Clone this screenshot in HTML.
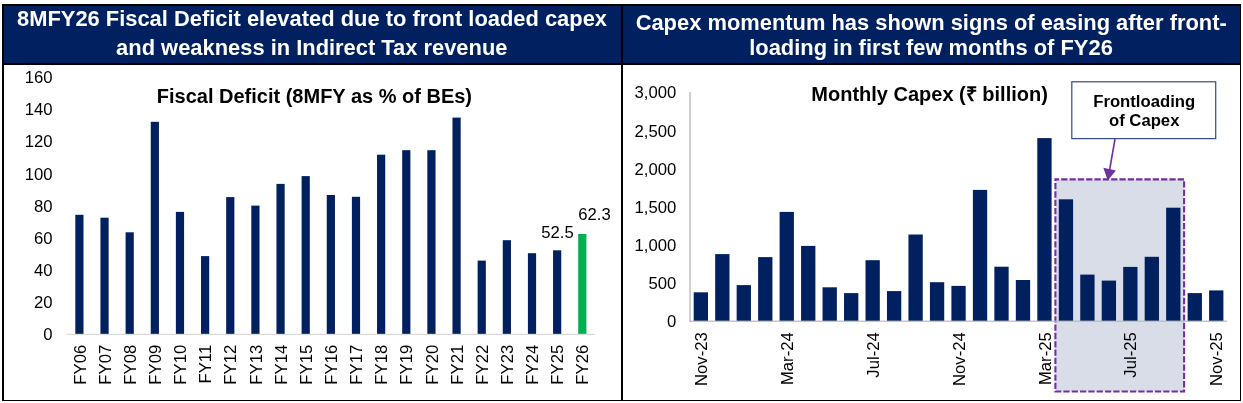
<!DOCTYPE html>
<html lang="en"><head><meta charset="utf-8"><title>Fiscal Deficit and Capex charts</title>
<style>
html,body{margin:0;padding:0;background:#fff;}
body{width:1243px;height:403px;overflow:hidden;font-family:"Liberation Sans", sans-serif;}
svg{display:block;}
text{font-family:"Liberation Sans", sans-serif;}
.hd{font-size:21.9px;font-weight:bold;fill:#fff;text-anchor:middle;}
.ct{font-size:20px;font-weight:bold;fill:#000;text-anchor:middle;}
.yl{font-size:16.7px;fill:#000;text-anchor:end;}
.xl{font-size:16.7px;fill:#000;text-anchor:end;}
.vl{font-size:16.7px;fill:#000;text-anchor:start;}
.cb{font-size:16.7px;font-weight:bold;fill:#000;text-anchor:middle;}
</style></head><body>
<svg width="1243" height="403" viewBox="0 0 1243 403">
<rect x="0" y="0" width="1243" height="403" fill="#ffffff"/>
<rect x="2" y="4" width="1239" height="397" fill="#000000"/>
<rect x="4" y="65" width="617" height="335" fill="#ffffff"/>
<rect x="623" y="65" width="617" height="335" fill="#ffffff"/>
<rect x="4" y="6" width="617" height="57" fill="#002060"/>
<rect x="623" y="6" width="617" height="57" fill="#002060"/>
<text class="hd" x="312" y="25.7">8MFY26 Fiscal Deficit elevated due to front loaded capex</text>
<text class="hd" x="311.8" y="54.7">and weakness in Indirect Tax revenue</text>
<text class="hd" x="931.2" y="29.7">Capex momentum has shown signs of easing after front-</text>
<text class="hd" x="931" y="54.6">loading in first few months of FY26</text>
<g id="left-chart">
<text class="ct" x="314.4" y="102.7">Fiscal Deficit (8MFY as % of BEs)</text>
<text class="yl" x="52.6" y="340.4">0</text>
<text class="yl" x="52.6" y="308.2">20</text>
<text class="yl" x="52.6" y="276.1">40</text>
<text class="yl" x="52.6" y="243.9">60</text>
<text class="yl" x="52.6" y="211.8">80</text>
<text class="yl" x="52.6" y="179.6">100</text>
<text class="yl" x="52.6" y="147.4">120</text>
<text class="yl" x="52.6" y="115.3">140</text>
<text class="yl" x="52.6" y="83.1">160</text>
<rect x="75.30" y="214.8" width="8.2" height="119.2" fill="#002060"/>
<rect x="100.44" y="217.7" width="8.2" height="116.3" fill="#002060"/>
<rect x="125.59" y="232.3" width="8.2" height="101.7" fill="#002060"/>
<rect x="150.74" y="121.8" width="8.2" height="212.2" fill="#002060"/>
<rect x="175.88" y="211.9" width="8.2" height="122.1" fill="#002060"/>
<rect x="201.02" y="256.1" width="8.2" height="77.9" fill="#002060"/>
<rect x="226.17" y="197.1" width="8.2" height="136.9" fill="#002060"/>
<rect x="251.31" y="205.6" width="8.2" height="128.4" fill="#002060"/>
<rect x="276.46" y="183.9" width="8.2" height="150.1" fill="#002060"/>
<rect x="301.61" y="176.1" width="8.2" height="157.9" fill="#002060"/>
<rect x="326.75" y="195.0" width="8.2" height="139.0" fill="#002060"/>
<rect x="351.89" y="196.8" width="8.2" height="137.2" fill="#002060"/>
<rect x="377.04" y="154.7" width="8.2" height="179.3" fill="#002060"/>
<rect x="402.19" y="150.2" width="8.2" height="183.8" fill="#002060"/>
<rect x="427.33" y="150.2" width="8.2" height="183.8" fill="#002060"/>
<rect x="452.48" y="117.6" width="8.2" height="216.4" fill="#002060"/>
<rect x="477.62" y="260.6" width="8.2" height="73.4" fill="#002060"/>
<rect x="502.76" y="240.2" width="8.2" height="93.8" fill="#002060"/>
<rect x="527.91" y="253.2" width="8.2" height="80.8" fill="#002060"/>
<rect x="553.05" y="250.3" width="8.2" height="83.7" fill="#002060"/>
<rect x="578.20" y="234.0" width="8.2" height="100.0" fill="#00b050"/>
<rect x="66.5" y="333.8" width="528.2" height="1.1" fill="#d6d6d6"/>
<text class="xl" transform="translate(85.50 344.8) rotate(-90)">FY06</text>
<text class="xl" transform="translate(110.64 344.8) rotate(-90)">FY07</text>
<text class="xl" transform="translate(135.79 344.8) rotate(-90)">FY08</text>
<text class="xl" transform="translate(160.93 344.8) rotate(-90)">FY09</text>
<text class="xl" transform="translate(186.08 344.8) rotate(-90)">FY10</text>
<text class="xl" transform="translate(211.22 344.8) rotate(-90)">FY11</text>
<text class="xl" transform="translate(236.37 344.8) rotate(-90)">FY12</text>
<text class="xl" transform="translate(261.51 344.8) rotate(-90)">FY13</text>
<text class="xl" transform="translate(286.66 344.8) rotate(-90)">FY14</text>
<text class="xl" transform="translate(311.81 344.8) rotate(-90)">FY15</text>
<text class="xl" transform="translate(336.95 344.8) rotate(-90)">FY16</text>
<text class="xl" transform="translate(362.09 344.8) rotate(-90)">FY17</text>
<text class="xl" transform="translate(387.24 344.8) rotate(-90)">FY18</text>
<text class="xl" transform="translate(412.38 344.8) rotate(-90)">FY19</text>
<text class="xl" transform="translate(437.53 344.8) rotate(-90)">FY20</text>
<text class="xl" transform="translate(462.68 344.8) rotate(-90)">FY21</text>
<text class="xl" transform="translate(487.82 344.8) rotate(-90)">FY22</text>
<text class="xl" transform="translate(512.96 344.8) rotate(-90)">FY23</text>
<text class="xl" transform="translate(538.11 344.8) rotate(-90)">FY24</text>
<text class="xl" transform="translate(563.25 344.8) rotate(-90)">FY25</text>
<text class="xl" transform="translate(588.40 344.8) rotate(-90)">FY26</text>
<text class="vl" x="541.2" y="237.9">52.5</text>
<text class="vl" x="578.3" y="220.4">62.3</text>
</g>
<g id="right-chart">
<rect x="1055.4" y="179.4" width="128.7" height="212.1" fill="#d9dde8" stroke="#7030a0" stroke-width="2.1" stroke-dasharray="6.3 2.024" stroke-dashoffset="2.56"/>
<text class="ct" x="929.6" y="101.4">Monthly Capex (₹ billion)</text>
<text class="yl" x="676.3" y="327.4">0</text>
<text class="yl" x="676.3" y="289.2">500</text>
<text class="yl" x="676.3" y="251.1">1,000</text>
<text class="yl" x="676.3" y="212.9">1,500</text>
<text class="yl" x="676.3" y="174.7">2,000</text>
<text class="yl" x="676.3" y="136.5">2,500</text>
<text class="yl" x="676.3" y="98.4">3,000</text>
<rect x="693.70" y="292.3" width="14.3" height="28.7" fill="#002060"/>
<rect x="715.18" y="254.1" width="14.3" height="66.9" fill="#002060"/>
<rect x="736.65" y="285.1" width="14.3" height="35.9" fill="#002060"/>
<rect x="758.12" y="257.1" width="14.3" height="63.9" fill="#002060"/>
<rect x="779.60" y="211.9" width="14.3" height="109.1" fill="#002060"/>
<rect x="801.08" y="245.9" width="14.3" height="75.1" fill="#002060"/>
<rect x="822.55" y="287.3" width="14.3" height="33.7" fill="#002060"/>
<rect x="844.03" y="293.1" width="14.3" height="27.9" fill="#002060"/>
<rect x="865.50" y="260.2" width="14.3" height="60.8" fill="#002060"/>
<rect x="886.98" y="291.1" width="14.3" height="29.9" fill="#002060"/>
<rect x="908.45" y="234.5" width="14.3" height="86.5" fill="#002060"/>
<rect x="929.93" y="282.2" width="14.3" height="38.8" fill="#002060"/>
<rect x="951.40" y="285.9" width="14.3" height="35.1" fill="#002060"/>
<rect x="972.88" y="189.9" width="14.3" height="131.1" fill="#002060"/>
<rect x="994.35" y="266.7" width="14.3" height="54.3" fill="#002060"/>
<rect x="1015.83" y="280.0" width="14.3" height="41.0" fill="#002060"/>
<rect x="1037.30" y="138.1" width="14.3" height="182.9" fill="#002060"/>
<rect x="1058.78" y="199.3" width="14.3" height="121.7" fill="#002060"/>
<rect x="1080.25" y="274.6" width="14.3" height="46.4" fill="#002060"/>
<rect x="1101.73" y="280.6" width="14.3" height="40.4" fill="#002060"/>
<rect x="1123.20" y="266.9" width="14.3" height="54.1" fill="#002060"/>
<rect x="1144.68" y="256.8" width="14.3" height="64.2" fill="#002060"/>
<rect x="1166.15" y="207.7" width="14.3" height="113.3" fill="#002060"/>
<rect x="1187.62" y="293.1" width="14.3" height="27.9" fill="#002060"/>
<rect x="1209.10" y="290.4" width="14.3" height="30.6" fill="#002060"/>
<rect x="689.4" y="92" width="1.3" height="229.8" fill="#b8b8b8"/>
<rect x="689.4" y="320.6" width="537.6" height="1.2" fill="#b8b8b8"/>
<text class="xl" transform="translate(706.95 332.2) rotate(-90)">Nov-23</text>
<text class="xl" transform="translate(792.85 332.2) rotate(-90)">Mar-24</text>
<text class="xl" transform="translate(878.75 332.2) rotate(-90)">Jul-24</text>
<text class="xl" transform="translate(964.65 332.2) rotate(-90)">Nov-24</text>
<text class="xl" transform="translate(1050.55 332.2) rotate(-90)">Mar-25</text>
<text class="xl" transform="translate(1136.45 332.2) rotate(-90)">Jul-25</text>
<text class="xl" transform="translate(1222.35 332.2) rotate(-90)">Nov-25</text>
<rect x="1071.8" y="81.8" width="143.9" height="56.8" fill="#ffffff" stroke="#38508f" stroke-width="1.25"/>
<text class="cb" x="1144.2" y="106.6">Frontloading</text>
<text class="cb" x="1144.2" y="125.7">of Capex</text>
<line x1="1115" y1="139" x2="1109.6" y2="170" stroke="#7030a0" stroke-width="1.6"/>
<polygon points="1107.8,180.4 1103.3,167.8 1115.9,170.4" fill="#7030a0"/>
</g>
</svg>
</body></html>
